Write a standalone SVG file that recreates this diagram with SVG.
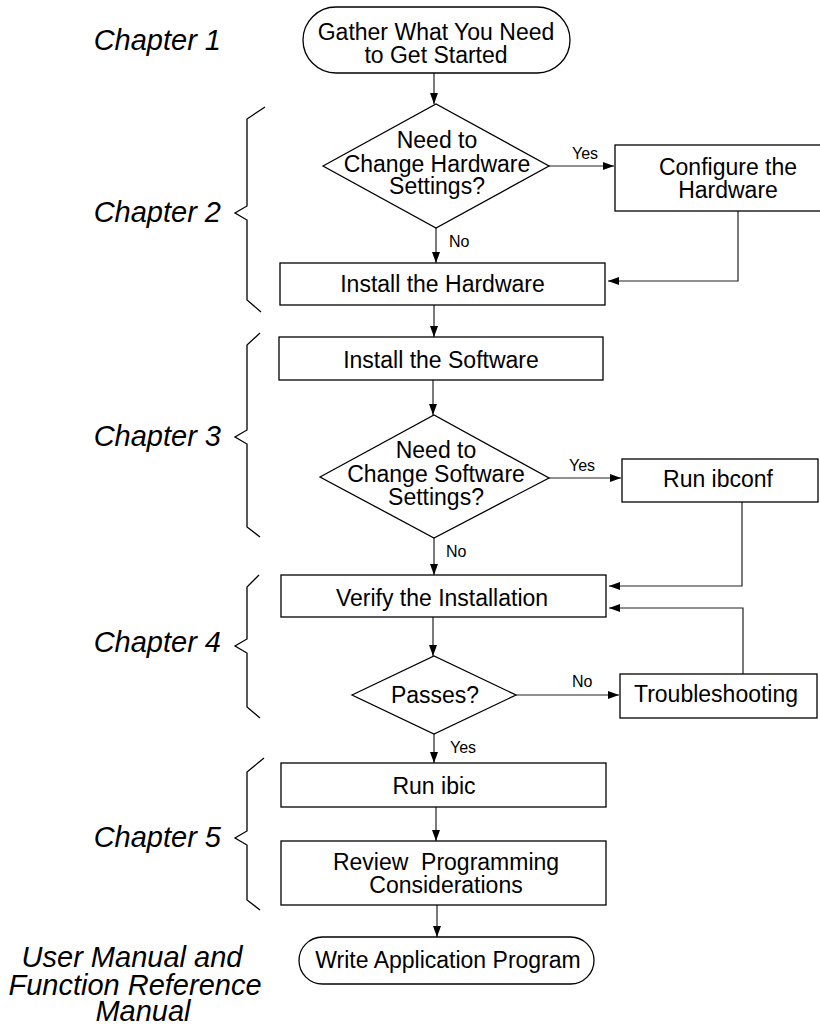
<svg xmlns="http://www.w3.org/2000/svg" width="820" height="1027" viewBox="0 0 820 1027">
<defs>
<style>
.box{fill:#fff;stroke:#000;stroke-width:1.3}
.t{font-family:"Liberation Sans",Arial,Helvetica,sans-serif;font-size:23px;fill:#000;text-anchor:middle}
.lbl{font-family:"Liberation Sans",Arial,Helvetica,sans-serif;font-size:16px;fill:#000}
.ch{font-family:"Liberation Sans",Arial,Helvetica,sans-serif;font-size:29px;font-style:italic;fill:#000}
.conn{fill:none;stroke:#222;stroke-width:1.2;marker-end:url(#ah)}
.brace{fill:none;stroke:#000;stroke-width:1.3}
</style>
<marker id="ah" markerUnits="userSpaceOnUse" markerWidth="11" markerHeight="8" refX="11" refY="4" orient="auto">
<path d="M0,0 L11,4 L0,8 z" fill="#000"/>
</marker>
</defs>
<rect width="820" height="1027" fill="#fff"/>

<g id="chapters">
<text class="ch" x="221" y="50" text-anchor="end">Chapter 1</text>
<text class="ch" x="221" y="222" text-anchor="end">Chapter 2</text>
<text class="ch" x="221" y="446" text-anchor="end">Chapter 3</text>
<text class="ch" x="221" y="652" text-anchor="end">Chapter 4</text>
<text class="ch" x="221" y="847" text-anchor="end">Chapter 5</text>
<text class="ch" x="132" y="967" text-anchor="middle">User Manual and</text>
<text class="ch" x="135" y="995" text-anchor="middle">Function Reference</text>
<text class="ch" x="143" y="1021" text-anchor="middle">Manual</text>
</g>

<g id="braces">
<path class="brace" d="M265,107 L247,119 L247,206 L235,213 L247,220 L247,300 L261,312"/>
<path class="brace" d="M260,333 L247,345 L247,430 L235,437 L247,444 L247,527 L260,537"/>
<path class="brace" d="M259,575 L247,587 L247,639 L235,646 L247,653 L247,707 L260,718"/>
<path class="brace" d="M264,758 L247,772 L247,831 L235,838 L247,845 L247,900 L260,910"/>
</g>

<g id="connectors">
<path class="conn" d="M434,73 L434,104"/>
<path class="conn" d="M436,228 L436,263"/>
<path class="conn" d="M549,166 L614,166"/>
<path class="conn" d="M738,211 L738,281 L608,281"/>
<path class="conn" d="M434,305 L434,337"/>
<path class="conn" d="M433,380 L433,415"/>
<path class="conn" d="M434,538 L434,575"/>
<path class="conn" d="M549,478 L621,478"/>
<path class="conn" d="M742,502 L742,586 L609,586"/>
<path class="conn" d="M433,617 L433,656"/>
<path class="conn" d="M516,695 L619,695"/>
<path class="conn" d="M743,674 L743,608 L609,608"/>
<path class="conn" d="M434,734 L434,763"/>
<path class="conn" d="M436,807 L436,841"/>
<path class="conn" d="M437,905 L437,937"/>
<text class="lbl" x="572" y="159">Yes</text>
<text class="lbl" x="449" y="247">No</text>
<text class="lbl" x="569" y="471">Yes</text>
<text class="lbl" x="446" y="557">No</text>
<text class="lbl" x="572" y="687">No</text>
<text class="lbl" x="450" y="753">Yes</text>
</g>

<g id="n-start">
<rect class="box" x="303" y="7" width="267" height="66" rx="33" ry="33"/>
<text class="t" x="436" y="40">Gather What You Need</text>
<text class="t" x="436" y="63">to Get Started</text>
</g>

<g id="n-hw-decision">
<polygon class="box" points="323,166 436,104 549,166 436,228"/>
<text class="t" x="437" y="148">Need to</text>
<text class="t" x="437" y="171.5">Change Hardware</text>
<text class="t" x="437" y="194">Settings?</text>
</g>

<g id="n-configure-hw">
<rect class="box" x="615" y="145" width="226" height="66"/>
<text class="t" x="728" y="175">Configure the</text>
<text class="t" x="728" y="198">Hardware</text>
</g>

<g id="n-install-hw">
<rect class="box" x="280" y="263" width="325" height="42"/>
<text class="t" x="442.5" y="292">Install the Hardware</text>
</g>

<g id="n-install-sw">
<rect class="box" x="279" y="337" width="324" height="43"/>
<text class="t" x="441" y="368">Install the Software</text>
</g>

<g id="n-sw-decision">
<polygon class="box" points="320,477 434,415 549,478 434,538"/>
<text class="t" x="436" y="458">Need to</text>
<text class="t" x="436" y="482">Change Software</text>
<text class="t" x="436" y="505">Settings?</text>
</g>

<g id="n-ibconf">
<rect class="box" x="622" y="459" width="196" height="43"/>
<text class="t" x="718" y="487">Run ibconf</text>
</g>

<g id="n-verify">
<rect class="box" x="281" y="575" width="325" height="42"/>
<text class="t" x="442" y="606">Verify the Installation</text>
</g>

<g id="n-passes">
<polygon class="box" points="352,695 434,656 516,695 434,734"/>
<text class="t" x="435" y="703">Passes?</text>
</g>

<g id="n-troubleshooting">
<rect class="box" x="620" y="674" width="197" height="44"/>
<text class="t" x="716" y="702">Troubleshooting</text>
</g>

<g id="n-ibic">
<rect class="box" x="281" y="763" width="325" height="44"/>
<text class="t" x="434" y="794">Run ibic</text>
</g>

<g id="n-review">
<rect class="box" x="281" y="841" width="325" height="64"/>
<text class="t" x="446" y="870" xml:space="preserve">Review  Programming</text>
<text class="t" x="446" y="893">Considerations</text>
</g>

<g id="n-write">
<rect class="box" x="299" y="937" width="295" height="47" rx="23.5" ry="23.5"/>
<text class="t" x="448" y="968">Write Application Program</text>
</g>
</svg>
